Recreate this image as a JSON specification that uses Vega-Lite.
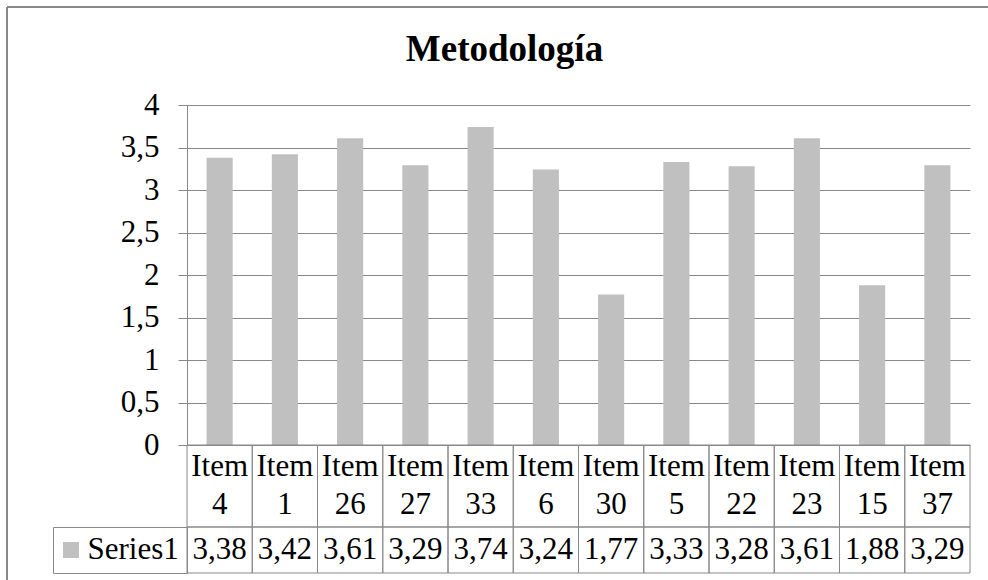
{
  "$schema": "https://vega.github.io/schema/vega-lite/v6.json",
  "padding": {"left": 6, "top": 6, "right": 0, "bottom": 0},
  "background": "white",
  "config": {
    "font": "Liberation Serif",
    "view": {"stroke": null},
    "locale": {"number": {"decimal": ",", "thousands": ".", "grouping": [3], "currency": ["", " €"]}}
  },
  "datasets": {
    "items": [
      {"item": "Item 4", "value": 3.38, "series": "Series1"},
      {"item": "Item 1", "value": 3.42, "series": "Series1"},
      {"item": "Item 26", "value": 3.61, "series": "Series1"},
      {"item": "Item 27", "value": 3.29, "series": "Series1"},
      {"item": "Item 33", "value": 3.74, "series": "Series1"},
      {"item": "Item 6", "value": 3.24, "series": "Series1"},
      {"item": "Item 30", "value": 1.77, "series": "Series1"},
      {"item": "Item 5", "value": 3.33, "series": "Series1"},
      {"item": "Item 22", "value": 3.28, "series": "Series1"},
      {"item": "Item 23", "value": 3.61, "series": "Series1"},
      {"item": "Item 15", "value": 1.88, "series": "Series1"},
      {"item": "Item 37", "value": 3.29, "series": "Series1"}
    ]
  },
  "data": {"name": "items"},
  "bounds": "flush",
  "spacing": 0,
  "resolve": {"scale": {"color": "independent"}, "legend": {"color": "independent"}},
  "vconcat": [
    {
      "width": 981,
      "height": 98,
      "data": {"values": [{}]},
      "layer": [
        {
          "mark": {"type": "rule", "color": "#888888", "strokeWidth": 2},
          "encoding": {"x": {"datum": 0, "type": "quantitative", "scale": {"domain": [0, 1]}, "axis": null}}
        },
        {
          "mark": {"type": "rule", "color": "#888888", "strokeWidth": 2},
          "encoding": {"y": {"datum": 1, "type": "quantitative", "scale": {"domain": [0, 1]}, "axis": null}}
        },
        {
          "mark": {"type": "text", "text": "Metodología", "fontSize": 37, "fontWeight": "bold", "color": "#000000", "dx": 7, "dy": -6},
          "encoding": {}
        }
      ]
    },
    {
      "bounds": "flush",
      "spacing": 0,
      "resolve": {"scale": {"color": "independent"}, "legend": {"color": "independent"}},
      "hconcat": [
        {
          "width": 180,
          "height": 475,
          "data": {"values": [{}]},
          "mark": {"type": "rule", "color": "#888888", "strokeWidth": 2},
          "encoding": {"x": {"datum": 0, "type": "quantitative", "scale": {"domain": [0, 1]}, "axis": null}}
        },
        {
          "bounds": "flush",
          "spacing": 0,
          "resolve": {"scale": {"color": "independent"}, "legend": {"color": "independent"}},
          "vconcat": [
            {
              "width": 783,
              "height": 340,
              "mark": {"type": "bar", "color": "#c0c0c0", "width": {"band": 0.4}},
              "encoding": {
                "x": {"field": "item", "type": "nominal", "sort": null, "scale": {"paddingInner": 0, "paddingOuter": 0}, "axis": null},
                "y": {
                  "field": "value",
                  "type": "quantitative",
                  "scale": {"domain": [0, 4], "nice": false},
                  "axis": {
                    "title": null,
                    "values": [0, 0.5, 1, 1.5, 2, 2.5, 3, 3.5, 4],
                    "format": "~g",
                    "grid": true,
                    "gridColor": "#888888",
                    "gridWidth": 1,
                    "domainColor": "#888888",
                    "domainWidth": 1,
                    "tickColor": "#888888",
                    "tickSize": 9,
                    "tickWidth": 1,
                    "labelPadding": 19,
                    "labelFontSize": 31,
                    "labelColor": "#000000"
                  }
                }
              }
            },
            {
              "width": 783,
              "height": 82,
              "layer": [
                {
                  "mark": {"type": "rect", "fill": "transparent", "stroke": "#888888", "strokeWidth": 1},
                  "encoding": {
                    "x": {"field": "item", "type": "nominal", "sort": null, "scale": {"paddingInner": 0, "paddingOuter": 0}, "axis": null}
                  }
                },
                {
                  "mark": {"type": "text", "lineBreak": " ", "fontSize": 31, "lineHeight": 38, "dy": -19, "color": "#000000"},
                  "encoding": {
                    "x": {"field": "item", "type": "nominal", "sort": null, "axis": null},
                    "text": {"field": "item", "type": "nominal"}
                  }
                }
              ]
            },
            {
              "width": 783,
              "height": 46,
              "layer": [
                {
                  "mark": {"type": "rect", "fill": "transparent", "stroke": "#888888", "strokeWidth": 1},
                  "encoding": {
                    "x": {"field": "item", "type": "nominal", "sort": null, "scale": {"paddingInner": 0, "paddingOuter": 0}, "axis": null}
                  }
                },
                {
                  "mark": {"type": "text", "fontSize": 31, "color": "#000000"},
                  "encoding": {
                    "x": {"field": "item", "type": "nominal", "sort": null, "axis": null},
                    "text": {"field": "value", "type": "quantitative", "format": ".2f"}
                  }
                },
                {
                  "mark": {"type": "point", "shape": "square", "filled": true, "opacity": 0, "strokeWidth": 0},
                  "encoding": {
                    "color": {
                      "field": "series",
                      "type": "nominal",
                      "scale": {"range": ["#c0c0c0"]},
                      "legend": {
                        "title": null,
                        "orient": "left",
                        "offset": 0,
                        "padding": 7.5,
                        "strokeColor": "#888888",
                        "symbolType": "square",
                        "symbolSize": 256,
                        "symbolStrokeWidth": 0,
                        "symbolOpacity": 1,
                        "symbolOffset": -5,
                        "labelOffset": 1,
                        "labelFontSize": 31,
                        "labelColor": "#000000"
                      }
                    }
                  }
                }
              ]
            }
          ]
        }
      ]
    }
  ]
}
